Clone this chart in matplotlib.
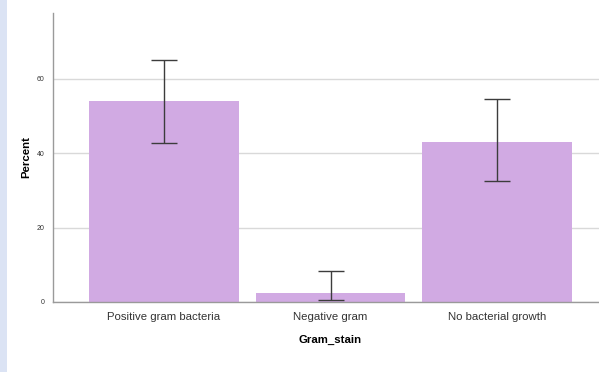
import matplotlib
matplotlib.use("Agg")
import matplotlib.pyplot as plt
from matplotlib.patches import Rectangle

categories = ["Positive gram bacteria", "Negative gram", "No bacterial growth"]
percent = [54.1, 2.5, 43.1]
ci_low = [42.7, 0.5, 32.4]
ci_high = [65.1, 8.3, 54.7]
y_ticks = [0, 20, 40, 60]

plt.rcParams["font.family"] = ["Liberation Sans", "DejaVu Sans"]

W, H = 599, 372
fig = plt.figure(figsize=(W / 100, H / 100), dpi=100)
fig.patch.set_facecolor("white")

# light blue strip along the left edge of the page
fig.add_artist(Rectangle((0, 0), 7 / W, 1, transform=fig.transFigure,
                         facecolor="#dbe3f4", edgecolor="none", zorder=0))

left_px, right_px = 53, 608
bottom_px, top_px = 302, 13
ax = fig.add_axes([left_px / W, 1 - bottom_px / H,
                   (right_px - left_px) / W, (bottom_px - top_px) / H])

x = list(range(len(categories)))
ax.bar(x, percent, width=0.9, color="#d1aae3", edgecolor="none", zorder=2)

err_lo = [p - l for p, l in zip(percent, ci_low)]
err_hi = [h - p for p, h in zip(percent, ci_high)]
ax.errorbar(x, percent, yerr=[err_lo, err_hi], fmt="none", ecolor="#3c3c3c",
            elinewidth=1.0, capsize=9.7, capthick=1.0, zorder=3)

ax.set_xlim(-0.667, 2.667)
ax.set_ylim(0, 77.7)
ax.set_yticks(y_ticks)
ax.set_yticklabels([str(t) for t in y_ticks], fontsize=5, color="#333333")
ax.set_xticks(x)
ax.set_xticklabels(categories, fontsize=8.2, color="#333333")
ax.tick_params(axis="both", length=0, pad=6)
ax.tick_params(axis="x", pad=7)

ax.yaxis.grid(True, color="#d9d9d9", linewidth=1.0, zorder=0)
ax.set_axisbelow(True)

for side in ["top", "right"]:
    ax.spines[side].set_visible(False)
for side in ["left", "bottom"]:
    ax.spines[side].set_color("#9a9a9a")
    ax.spines[side].set_linewidth(1.0)

ax.set_ylabel("Percent", fontsize=8.2, fontweight="bold")
ax.set_xlabel("Gram_stain", fontsize=8.2, fontweight="bold")
ax.xaxis.set_label_coords((330 - left_px) / (right_px - left_px),
                          -(335 - bottom_px) / (bottom_px - top_px))
ax.yaxis.set_label_coords(-(53 - 31) / (right_px - left_px),
                          (302 - 157.5) / (bottom_px - top_px))

fig.savefig("out.png", dpi=100)
